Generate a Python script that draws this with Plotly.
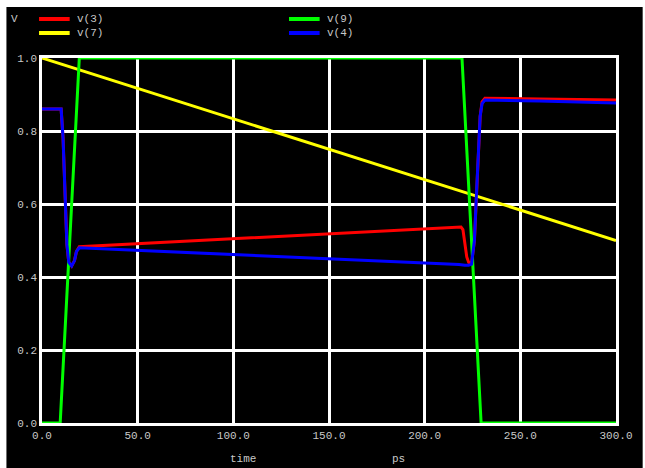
import plotly.graph_objects as go

# ---- data (time in ps, voltage in V) ----
t7 = [0, 300]
v7 = [1.0, 0.5]

t9 = [0, 9.5, 19.5, 219.5, 229.5, 300]
v9 = [0.0, 0.0, 1.0, 1.0, 0.0, 0.0]

t4 = [0, 10, 11, 12, 13, 14, 15.5, 17, 18, 19.5, 60, 120, 180, 218, 221, 223, 224.5,
      226, 227, 228, 229, 230, 231.5, 260, 300]
v4 = [0.86, 0.86, 0.78, 0.62, 0.49, 0.44, 0.43, 0.445, 0.47, 0.48, 0.471, 0.457, 0.443,
      0.434, 0.432, 0.432, 0.435, 0.5, 0.62, 0.75, 0.84, 0.875, 0.885, 0.882, 0.877]

t3 = [0, 10, 11, 12, 13, 14, 15.5, 17, 18, 19.5, 60, 120, 180, 219, 220, 221, 222, 223,
      224.5, 226, 227, 228, 229, 230, 231.5, 260, 300]
v3 = [0.86, 0.86, 0.78, 0.62, 0.49, 0.44, 0.43, 0.445, 0.47, 0.483, 0.494, 0.509, 0.525,
      0.537, 0.53, 0.49, 0.455, 0.44, 0.437, 0.5, 0.62, 0.75, 0.84, 0.88, 0.89, 0.888, 0.885]

x_ticks = [0, 50, 100, 150, 200, 250, 300]
y_ticks = [0.0, 0.2, 0.4, 0.6, 0.8, 1.0]

series = [
    ("v(3)", t3, v3, "#ff0000"),
    ("v(7)", t7, v7, "#ffff00"),
    ("v(9)", t9, v9, "#00ff00"),
    ("v(4)", t4, v4, "#0000ff"),
]

FONT = "Liberation Mono, DejaVu Sans Mono, monospace"
GRAY = "#c8c8c8"

W, H = 645, 468
ML, MR, MT, MB = 42, 22, 58, 45
PW, PH = W - ML - MR, H - MT - MB


def px(xp):
    return (xp - ML) / PW


def py(yp):
    return (H - MB - yp) / PH


fig = go.Figure()
for name, t, v, c in series:
    fig.add_trace(go.Scatter(x=t, y=v, mode="lines", name=name,
                             line=dict(color=c, width=3), showlegend=False))

axis_common = dict(showgrid=True, gridcolor="white", gridwidth=2.5,
                   showline=True, linecolor="white", linewidth=2.5, mirror=True,
                   zeroline=False, ticks="", tickfont=dict(family=FONT, size=11, color=GRAY))

shapes = [dict(type="rect", xref="paper", yref="paper", layer="below",
               x0=px(6), x1=px(650), y0=py(475), y1=py(7),
               fillcolor="black", line=dict(width=0))]
annotations = [
    dict(text="V", xref="paper", yref="paper", x=px(9), y=py(19),
         xanchor="left", yanchor="middle", showarrow=False),
    dict(text="time", xref="paper", yref="paper", x=px(245), y=py(459),
         xanchor="center", yanchor="middle", showarrow=False),
    dict(text="ps", xref="paper", yref="paper", x=px(403), y=py(459),
         xanchor="center", yanchor="middle", showarrow=False),
]

# legend entries (two columns x two rows): v(3) v(9) / v(7) v(4)
legend_pos = {"v(3)": (39, 19), "v(7)": (39, 33), "v(9)": (292, 19), "v(4)": (292, 33)}
for name, t, v, c in series:
    lx, ly = legend_pos[name]
    shapes.append(dict(type="line", xref="paper", yref="paper",
                       x0=px(lx), x1=px(lx + 31), y0=py(ly), y1=py(ly),
                       line=dict(color=c, width=4)))
    annotations.append(dict(text=name, xref="paper", yref="paper", x=px(lx + 36), y=py(ly),
                            xanchor="left", yanchor="middle", showarrow=False))

fig.update_layout(
    width=W, height=H,
    margin=dict(l=ML, r=MR, t=MT, b=MB),
    paper_bgcolor="white",
    plot_bgcolor="black",
    font=dict(family=FONT, size=11, color=GRAY),
    xaxis=dict(range=[0, 300], tickvals=x_ticks, tickformat=".1f", **axis_common),
    yaxis=dict(range=[0, 1.0], tickvals=y_ticks, tickformat=".1f", **axis_common),
    showlegend=False,
    shapes=shapes,
    annotations=annotations,
)

fig.write_html("out.html", config={"displayModeBar": False},
               post_script="document.body.style.margin='0';document.body.style.overflow='hidden';")
